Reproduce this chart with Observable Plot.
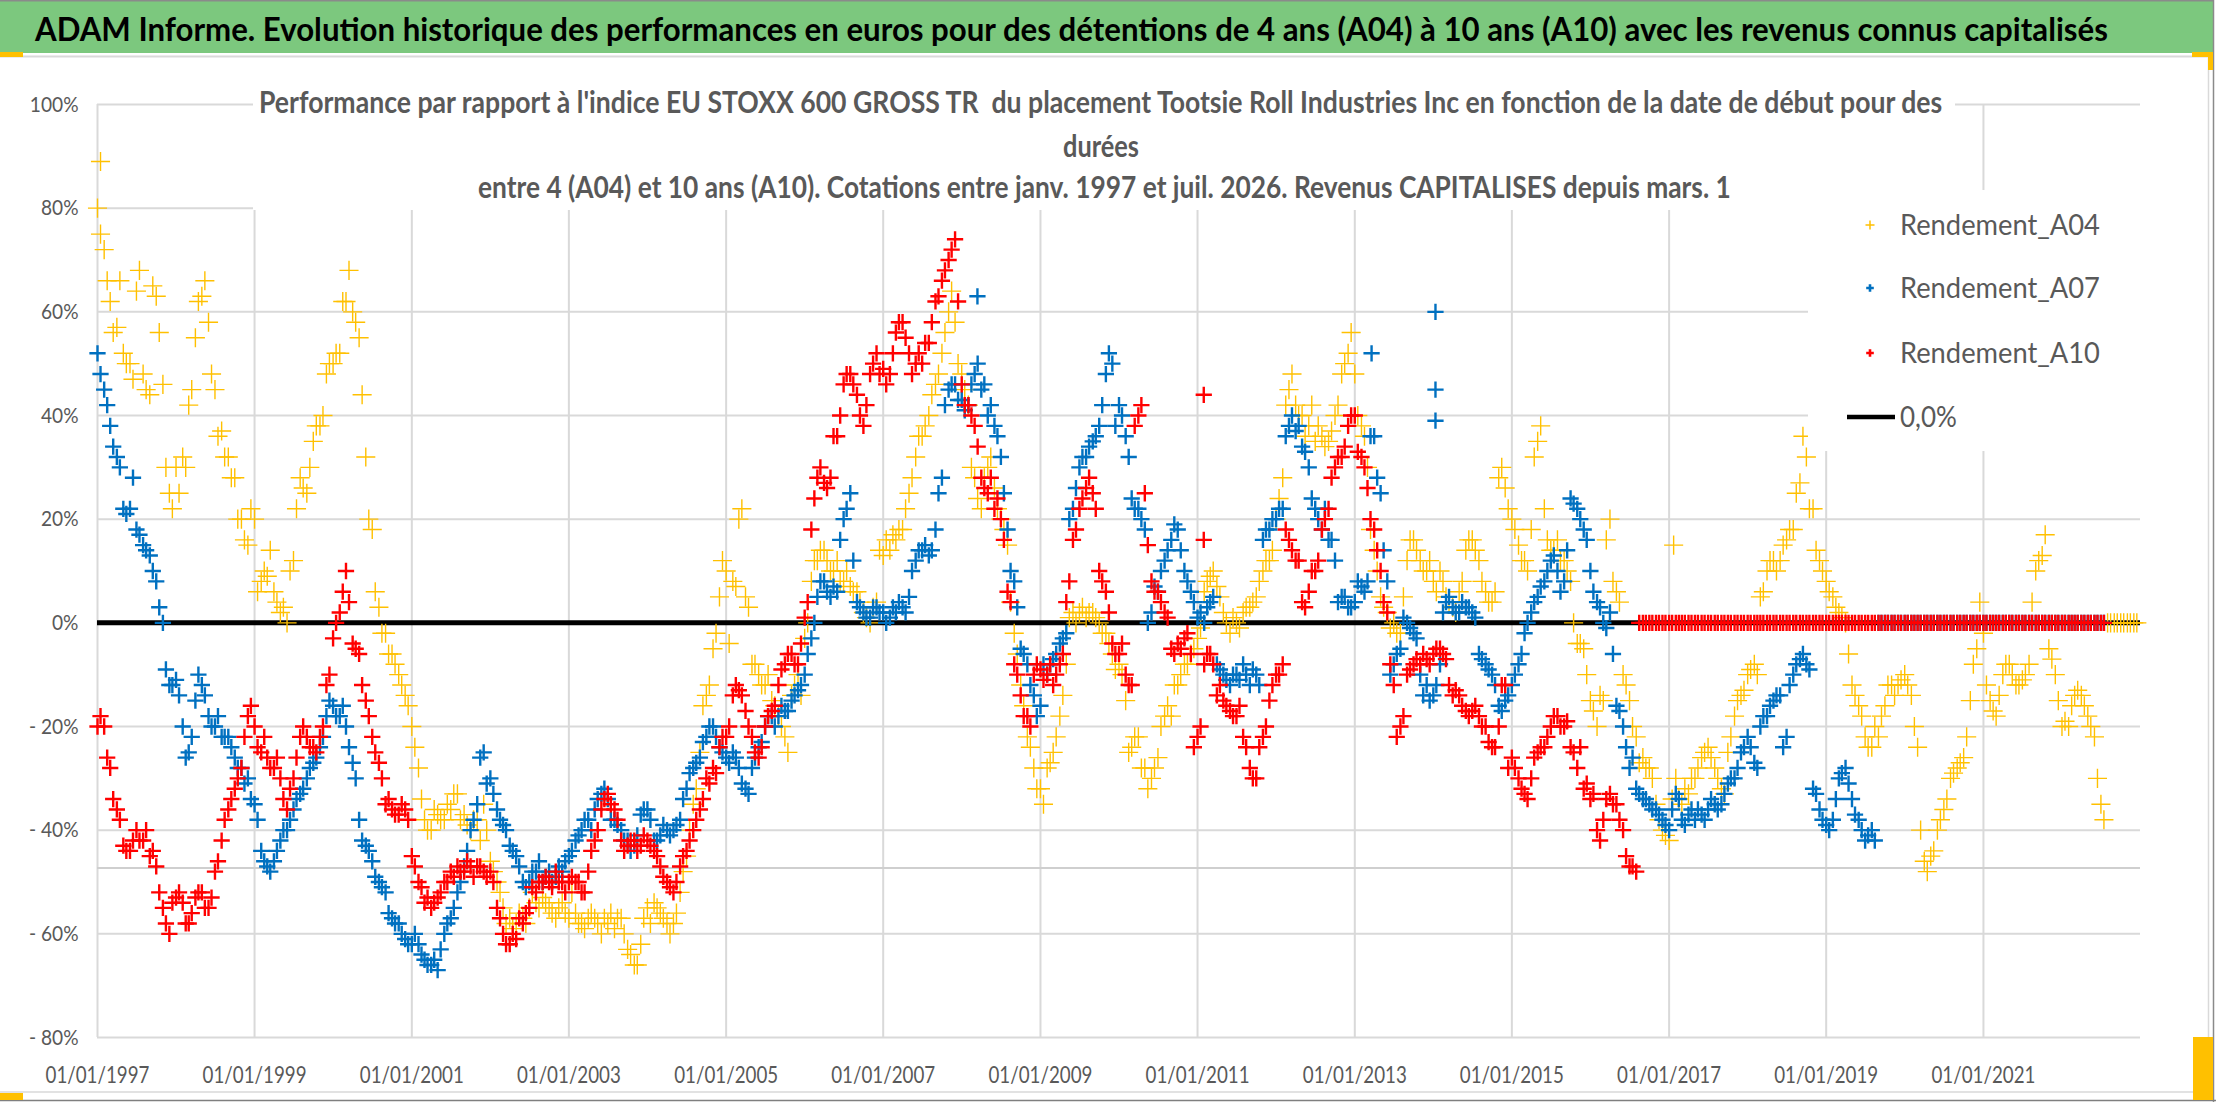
<!DOCTYPE html>
<html>
<head>
<meta charset="utf-8">
<script src="https://cdn.jsdelivr.net/npm/d3@7"></script>
<script src="https://cdn.jsdelivr.net/npm/@observablehq/plot@0.6"></script>
<style>
html, body { margin: 0; padding: 0; background: #fff; }
#root { position: relative; width: 2216px; height: 1102px; overflow: hidden; background: #fff; }
#root > svg { position: absolute; left: 0; top: 0; }
</style>
</head>
<body>
<div id="root"></div>
<script>
// ---------- Texts ----------
const bannerText = "ADAM Informe. Evolution historique des performances en euros pour des détentions de 4 ans (A04) à 10 ans (A10) avec les revenus connus capitalisés";
const titleLines = [
  "Performance par rapport à l'indice EU STOXX 600 GROSS TR  du placement Tootsie Roll Industries Inc en fonction de la date de début pour des",
  "durées",
  "entre 4 (A04) et 10 ans (A10). Cotations entre janv. 1997 et juil. 2026. Revenus CAPITALISES depuis mars. 1"
];
const seriesNames = ["Rendement_A04", "Rendement_A07", "Rendement_A10"];
const zeroLineName = "0,0%";

// ---------- Axis ticks ----------
const yTicks = [-80, -60, -40, -20, 0, 20, 40, 60, 80, 100];
const xTickLabels = ["01/01/1997","01/01/1999","01/01/2001","01/01/2003","01/01/2005","01/01/2007","01/01/2009","01/01/2011","01/01/2013","01/01/2015","01/01/2017","01/01/2019","01/01/2021"];
const xDomain = ["1997-01-01", "2023-01-01"];
const extraLineValue = -47.3;   // light grey horizontal line seen in the chart

// ---------- Values (%) read at the 1st of each month, from January 1997 ----------
const firstMonth = "1997-01-01";
const a04 = [
  80, 72, 62, 57, 52, 50, 64, 48, 44, 63, 46, 25,
  30, 32, 42, 55, 63, 58, 45, 37, 32, 28, 20, 15,
  20, 8, 9, 6, 2, 0, 12, 28, 25, 35, 38, 48,
  50, 52, 62, 60, 55, 32, 18, 3, -2, -6, -10, -14,
  -20, -28, -38, -40, -37, -38, -36, -33, -37, -40, -38, -35,
  -46, -50, -55, -57, -58, -57, -55, -54, -53, -55, -57, -54,
  -57, -56, -58, -57, -57, -60, -58, -59, -57, -63, -66, -62,
  -55, -54, -56, -58, -58, -52, -45, -35, -25, -14, -5, 5,
  10, 8, 20, 5, -8, -10, -12, -15, -18, -22, -14, -10,
  -3, 8, 12, 14, 10, 12, 8, 7, 6, 2, 0, 4,
  13, 14, 16, 18, 25, 32, 36, 40, 46, 52, 60, 58,
  48, 42, 28, 22, 30, 26, 20, 15, -2, -12, -22, -28,
  -32, -28, -25, -18, -8, 2, 2, 1, 2, 0, -2, -6,
  -8, -15, -24, -22, -28, -30, -26, -18, -18, -12, -8, -6,
  -3, 6, 9, 7, 2, -2, 0, 2, 3, 5, 10, 12,
  20, 28, 45, 42, 40, 38, 35, 36, 35, 40, 48, 52,
  48, 38, 30, 14, 5, 2, 0, -2, 12, 16, 12, 10,
  8, 10, 5, 3, 6, 14, 16, 12, 6, 4, 28, 26,
  20, 15, 12, 18, 35, 22, 14, 16, 12, 8, -4, -5,
  -15, -20, -15, 20, 6, -10, -15, -22, -26, -28, -35, -40,
  -42, -30, -35, -33, -30, -26, -24, -28, -32, -25, -18, -14,
  -10, -8, 5, 10, 12, 12, 16, 18, 27, 32, 22, 12,
  8, 5, 2, 0, -12, -16, -22, -24, -22, -16, -12, -12,
  -10, -14, -24, -46, -45, -40, -36, -30, -28, -26, -15, -5,
  -2, -15, -18, -10, -8, -12, -11, -8, 10, 13, -5, -10,
  -20, -20, -14, -14, -18, -22, -35, 0, 0, 0, 0, 0
];
const a07 = [
  52, 45, 38, 32, 22, 22, 18, 15, 13, 8, 0, -12,
  -11, -20, -25, -15, -12, -18, -20, -22, -22, -26, -28, -30,
  -35, -44, -47, -46, -42, -40, -36, -33, -30, -27, -24, -18,
  -16, -18, -20, -27, -38, -43, -46, -50, -52, -57, -58, -61,
  -62, -62, -65, -66, -67, -60, -57, -52, -47, -40, -35, -25,
  -30, -36, -39, -43, -45, -50, -50, -48, -50, -48, -49, -48,
  -45, -42, -40, -38, -36, -33, -34, -38, -40, -42, -43, -37,
  -36, -42, -41, -40, -40, -38, -32, -28, -26, -22, -20, -24,
  -26, -25, -28, -32, -28, -24, -20, -18, -18, -17, -15, -13,
  -10, -3, 5, 8, 5, 6, 20, 25, 4, 2, 1, 3,
  2, 1, 2, 3, 5, 12, 14, 13, 18, 28, 45, 46,
  43, 42, 48, 45, 40, 38, 32, 18, 8, -5, -8, -14,
  -16, -10, -7, -4, -2, 22, 30, 32, 35, 38, 48, 50,
  42, 36, 24, 22, 18, 2, 6, 12, 16, 18, 10, 6,
  1, 0, 4, -8, -10, -12, -10, -8, -12, -10, 16, 18,
  20, 22, 38, 37, 34, 30, 22, 18, 16, 12, 5, 3,
  4, 7, 8, 36, 25, 8, -8, -5, 0, -2, -10, -12,
  -14, -8, 4, 3, 2, 3, 2, -6, -8, -10, -16, -15,
  -12, -8, -2, 2, 5, 8, 12, 10, 8, 24, 22, 18,
  10, 4, 0, 2, -16, -20, -28, -32, -34, -35, -36, -38,
  -40, -33, -38, -37, -38, -37, -36, -35, -35, -31, -30, -25,
  -22, -27, -20, -18, -15, -14, -22, -10, -7, -8, -32, -36,
  -39, -38, -30, -28, -34, -38, -42, -40,
  0, 0, 0, 0, 0, 0, 0, 0, 0, 0, 0, 0, 0, 0, 0, 0, 0, 0, 0, 0,
  0, 0, 0, 0, 0, 0, 0, 0, 0, 0, 0, 0, 0, 0, 0
];
const a10 = [
  -20, -20, -28, -36, -43, -44, -40, -42, -45, -47, -55, -60,
  -53, -54, -58, -53, -52, -55, -48, -42, -36, -32, -28, -18,
  -20, -25, -26, -28, -30, -36, -30, -22, -22, -24, -22, -12,
  -3, 2, 10, -4, -6, -15, -22, -27, -35, -36, -37, -36,
  -45, -50, -54, -55, -53, -50, -48, -47, -48, -47, -47, -48,
  -48, -55, -60, -62, -61, -58, -55, -52, -50, -50, -48, -50,
  -50, -50, -52, -48, -42, -36, -33, -36, -42, -43, -42, -43,
  -42, -44, -47, -50, -52, -47, -44, -40, -36, -30, -28, -24,
  -22, -14, -13, -17, -22, -26, -20, -17, -12, -8, -6, -8,
  1, 18, 28, 27, 28, 36, 46, 48, 44, 38, 48, 52,
  49, 48, 56, 58, 52, 50, 50, 54, 62, 66, 70, 74,
  46, 42, 38, 28, 25, 22, 20, 6, -8, -14, -18, -10,
  -9, -10, -12, -8, 4, 16, 22, 26, 25, 10, 6, -4,
  -6, -10, -12, 40, 25, 8, 6, 2, -5, -4, -3, -6,
  -22, -8, -6, -14, -15, -17, -18, -22, -28, -30, -22, -15,
  -10, -8, 16, 12, 4, 6, 10, 18, 22, 30, 32, 38,
  40, 32, 26, 18, 10, 2, -12, -20, -10, -8, -8, -7,
  -6, -5, -7, -14, -14, -17, -17, -18, -20, -24, -20, -12,
  -26, -30, -33, -30, -25, -24, -20, -18, -20, -24, -28, -32,
  -34, -40, -38, -33, -35, -40, -47, -48,
  0, 0, 0, 0, 0, 0, 0, 0, 0, 0, 0, 0, 0, 0, 0, 0, 0, 0, 0, 0,
  0, 0, 0, 0, 0, 0, 0, 0, 0, 0, 0, 0, 0, 0, 0, 0, 0, 0, 0, 0,
  0, 0, 0, 0, 0, 0, 0, 0, 0, 0, 0, 0, 0, 0, 0, 0, 0, 0, 0, 0,
  0, 0, 0, 0, 0, 0, 0, 0, 0, 0, 0
];
// ---------- Values (%) read at the 15th of each month, from January 1997 ----------
const a04Mid = [
  75, 66, 56, 66, 50, 47, 68, 45, 65, 56, 30, 22,
  25, 30, 45, 62, 66, 48, 36, 32, 28, 20, 16, 22,
  6, 10, 14, 4, 3, 10, 22, 26, 30, 38, 40, 50,
  52, 62, 68, 58, 44, 20, 6, -2, -6, -8, -12, -16,
  -24, -34, -40, -36, -38, -35, -33, -38, -39, -38, -42, -40,
  -48, -52, -58, -59, -56, -58, -52, -55, -54, -56, -55, -56,
  -52, -58, -59, -56, -58, -57, -56, -57, -60, -64, -66, -57,
  -58, -55, -57, -60, -56, -48, -40, -32, -16, -12, -2, 12,
  -4, 7, 22, 3, -8, -12, -10, -16, -20, -25, -12, -14,
  0, 12, 14, 12, 10, 8, 10, 6, 4, 1, 3, 14,
  16, 17, 18, 22, 28, 36, 38, 44, 48, 56, 64, 50,
  45, 30, 24, 28, 32, 22, 18, 4, -6, -16, -24, -32,
  -35, -27, -22, -14, 1, 0, 3, 2, 1, -2, -4, -9,
  -10, -25, -22, -28, -32, -28, -20, -16, -12, -10, -8, -5,
  -1, 8, 10, 5, 0, 1, -1, 3, 4, 8, 12, 14,
  24, 42, 48, 40, 36, 42, 38, 34, 37, 42, 50, 56,
  40, 36, 18, 10, 3, -1, -2, 5, 16, 14, 10, 12,
  6, 8, 4, 2, 8, 16, 14, 8, 4, 6, 30, 22,
  18, 12, 10, 32, 38, 16, 14, 12, 10, 0, -4, -10,
  -17, -14, 16, 8, 4, -12, -20, -27, -28, -30, -38, -41,
  -34, -34, -32, -30, -28, -25, -26, -30, -33, -22, -15, -13,
  -9, -10, 6, 12, 10, 15, 18, 25, 36, 22, 14, 10,
  6, 3, 1, -6, -14, -18, -24, -20, -18, -12, -14, -11,
  -12, -20, -40, -48, -44, -38, -34, -29, -27, -22, -8, 4,
  -12, -17, -14, -8, -10, -12, -10, 4, 12, 17, -7, -15,
  -19, -16, -13, -16, -20, -30, -38, 0, 0, 0, 0, 0
];
const a07Mid = [
  48, 42, 34, 30, 21, 28, 17, 14, 10, 3, -9, -12,
  -14, -26, -22, -10, -14, -20, -18, -22, -24, -28, -31, -34,
  -38, -46, -48, -44, -40, -38, -34, -32, -28, -26, -22, -15,
  -18, -16, -24, -30, -42, -44, -49, -51, -56, -58, -60, -62,
  -60, -64, -66, -65, -63, -58, -55, -50, -44, -38, -26, -31,
  -33, -38, -40, -44, -47, -51, -48, -46, -49, -50, -47, -46,
  -44, -41, -38, -40, -34, -32, -38, -39, -42, -44, -41, -36,
  -38, -42, -39, -41, -39, -34, -29, -27, -23, -20, -22, -25,
  -27, -26, -31, -33, -26, -23, -18, -20, -16, -17, -14, -12,
  -6, 0, 8, 6, 7, 16, 22, 12, 3, 1, 3, 2,
  0, 3, 4, 2, 10, 14, 15, 14, 25, 42, 46, 43,
  41, 46, 50, 46, 42, 36, 25, 10, 3, -6, -12, -18,
  -8, -8, -6, -3, 20, 26, 32, 34, 36, 42, 52, 38,
  40, 32, 22, 20, 0, 7, 10, 14, 19, 14, 8, 4,
  2, 3, 5, -9, -11, -10, -11, -10, -9, -12, 18, 20,
  22, 36, 40, 38, 33, 24, 20, 22, 16, 4, 5, 3,
  8, 6, 36, 28, 14, -10, -6, 1, -1, -3, -14, -15,
  -12, 2, 5, 2, 4, 3, 1, -7, -9, -12, -17, -14,
  -10, -6, 0, 4, 7, 10, 13, 6, 14, 23, 20, 16,
  6, 3, -1, -6, -17, -24, -26, -33, -34, -36, -37, -39,
  -36, -34, -39, -36, -36, -38, -34, -36, -33, -30, -28, -24,
  -24, -28, -18, -16, -14, -24, -12, -8, -6, -9, -33, -38,
  -40, -34, -29, -31, -37, -40, -41, -42,
  0, 0, 0, 0, 0, 0, 0, 0, 0, 0, 0, 0, 0, 0, 0, 0, 0, 0, 0, 0,
  0, 0, 0, 0, 0, 0, 0, 0, 0, 0, 0, 0, 0, 0, 0
];
const a10Mid = [
  -18, -26, -34, -38, -44, -42, -42, -40, -44, -52, -58, -54,
  -52, -58, -56, -52, -55, -53, -46, -38, -34, -30, -22, -16,
  -24, -22, -28, -26, -34, -32, -26, -20, -24, -25, -20, -10,
  0, 6, 4, -5, -12, -18, -25, -30, -34, -37, -35, -38,
  -47, -51, -53, -54, -52, -50, -49, -48, -46, -49, -47, -49,
  -50, -57, -62, -60, -57, -56, -51, -50, -49, -51, -50, -52,
  -49, -50, -52, -44, -40, -34, -35, -38, -44, -42, -44, -41,
  -43, -45, -49, -51, -50, -45, -42, -38, -34, -31, -29, -22,
  -20, -12, -14, -20, -25, -24, -18, -16, -9, -6, -8, -4,
  4, 24, 30, 26, 36, 40, 48, 46, 40, 42, 50, 48,
  46, 52, 58, 55, 48, 52, 54, 58, 63, 68, 72, 62,
  42, 40, 34, 26, 28, 24, 16, 4, -10, -18, -20, -8,
  -11, -8, -10, -6, 8, 18, 24, 28, 22, 8, 2, -6,
  -4, -12, 38, 42, 15, 6, 4, 1, -6, -5, -2, -24,
  -20, -6, -8, -12, -16, -18, -16, -24, -30, -24, -20, -12,
  -10, 18, 14, 12, 3, 10, 12, 20, 28, 32, 34, 40,
  33, 30, 20, 14, 4, -8, -22, -18, -9, -7, -6, -8,
  -5, -6, -12, -13, -16, -18, -16, -20, -23, -24, -12, -28,
  -28, -32, -34, -26, -24, -22, -18, -20, -19, -25, -24, -31,
  -33, -42, -34, -35, -38, -45, -47,
  0, 0, 0, 0, 0, 0, 0, 0, 0, 0, 0, 0, 0, 0, 0, 0, 0, 0, 0, 0,
  0, 0, 0, 0, 0, 0, 0, 0, 0, 0, 0, 0, 0, 0, 0, 0, 0, 0, 0, 0,
  0, 0, 0, 0, 0, 0, 0, 0, 0, 0, 0, 0, 0, 0, 0, 0, 0, 0, 0, 0,
  0, 0, 0, 0, 0, 0, 0, 0, 0, 0, 0, 0
];
// isolated points seen away from the main clouds
const extraA04 = [["1997-01-15", 89], ["2017-01-22", 15]];
const extraA07 = [["2008-03-14", 63], ["2013-03-20", 52], ["2014-01-11", 60], ["2014-01-11", 45], ["2014-01-11", 39]];
const extraA10 = [["2011-01-30", 44], ["2011-01-30", 16]];

// ---------- Styles ----------
const colors = ["#FFC000", "#0070C0", "#FF0000"];
const textGrey = "#595959";
const gridGrey = "#d9d9d9";

// ---------- Build rows ----------
const start = new Date(firstMonth + "T00:00:00Z");
function series(arr, day) {
  return arr.map((v, i) => ({date: new Date(Date.UTC(start.getUTCFullYear(), start.getUTCMonth() + i, day)), v}));
}
function extras(arr) { return arr.map(([d, v]) => ({date: new Date(d + "T00:00:00Z"), v})); }
const dA04 = series(a04, 1).concat(series(a04Mid, 15), extras(extraA04));
const dA07 = series(a07, 1).concat(series(a07Mid, 15), extras(extraA07));
const dA10 = series(a10, 1).concat(series(a10Mid, 15), extras(extraA10));
const parseLabel = d3.utcParse("%d/%m/%Y");
const xTicks = xTickLabels.map(parseLabel);

const chart = Plot.plot({
  width: 2216,
  height: 1102,
  marginLeft: 97,
  marginRight: 76,
  marginTop: 104,
  marginBottom: 65,
  style: {fontFamily: "Lato, 'Open Sans', sans-serif", fontSize: "22px", color: textGrey, background: "transparent", overflow: "visible"},
  x: {type: "utc", domain: xDomain.map(s => new Date(s + "T00:00:00Z"))},
  y: {domain: [-80, 100]},
  marks: [
    Plot.gridY(yTicks, {stroke: gridGrey, strokeOpacity: 1, strokeWidth: 2}),
    Plot.gridX(xTicks, {stroke: gridGrey, strokeOpacity: 1, strokeWidth: 2}),
    Plot.ruleY([extraLineValue], {stroke: "#cfcfcf", strokeWidth: 2}),
    Plot.ruleY([0], {stroke: "#000", strokeWidth: 5}),
    Plot.dot(dA04, {x: "date", y: "v", symbol: "plus", r: 6.2, stroke: colors[0], strokeWidth: 1.4}),
    Plot.dot(dA07, {x: "date", y: "v", symbol: "plus", r: 5.3, stroke: colors[1], strokeWidth: 2.4}),
    Plot.dot(dA10, {x: "date", y: "v", symbol: "plus", r: 5.3, stroke: colors[2], strokeWidth: 2.4}),
    Plot.axisX(xTicks, {tickSize: 0, tickPadding: 29, fontSize: 23, label: null, tickFormat: d3.utcFormat("%d/%m/%Y")}),
    Plot.axisY(yTicks, {tickSize: 0, tickPadding: 19, fontSize: 22, label: null, tickFormat: v => v < 0 ? "- " + Math.abs(v) + "%" : v + "%"})
  ]
});
const root = document.getElementById("root");
root.appendChild(chart);

// condense axis labels (reference font is narrow)
chart.querySelectorAll('g[aria-label="x-axis tick label"] text').forEach(t => {
  t.setAttribute("textLength", 104); t.setAttribute("lengthAdjust", "spacingAndGlyphs");
});
chart.querySelectorAll('g[aria-label="y-axis tick label"] text').forEach(t => {
  const L = t.getComputedTextLength();
  t.setAttribute("textLength", (L * 0.87).toFixed(1)); t.setAttribute("lengthAdjust", "spacingAndGlyphs");
});

// ---------- Overlay: banner, title, legend, frame ----------
const NS = "http://www.w3.org/2000/svg";
const ov = document.createElementNS(NS, "svg");
ov.setAttribute("width", 2216); ov.setAttribute("height", 1102);
ov.style.fontFamily = "Lato, 'Open Sans', sans-serif";
root.appendChild(ov);
function el(tag, attrs, text) {
  const e = document.createElementNS(NS, tag);
  for (const k in attrs) e.setAttribute(k, attrs[k]);
  if (text != null) e.textContent = text;
  ov.appendChild(e);
  return e;
}
// text placed at (x, baseline y) and squeezed horizontally to a target width
function fitText(str, x, y, w, attrs) {
  const t = el("text", Object.assign({x: 0, y: 0}, attrs), str);
  t.setAttributeNS("http://www.w3.org/XML/1998/namespace", "xml:space", "preserve");
  t.style.whiteSpace = "pre";
  const L = t.getComputedTextLength();
  t.setAttribute("transform", `translate(${x},${y}) scale(${(w / L).toFixed(4)},1)`);
  return t;
}
// frame
el("rect", {x: 0, y: 0, width: 2213, height: 53, fill: "#7cc87e"});
el("line", {x1: 0, x2: 2213, y1: 0.75, y2: 0.75, stroke: "#8a8a8a", "stroke-width": 1.5});
el("line", {x1: 0, x2: 2208, y1: 56.5, y2: 56.5, stroke: gridGrey, "stroke-width": 2});
el("line", {x1: 2208.5, x2: 2208.5, y1: 56, y2: 1092, stroke: gridGrey, "stroke-width": 1.5});
el("line", {x1: 2213.5, x2: 2213.5, y1: 0, y2: 1102, stroke: "#8a8a8a", "stroke-width": 1.5});
el("line", {x1: 0, x2: 2208, y1: 1092, y2: 1092, stroke: gridGrey, "stroke-width": 1.5});
el("line", {x1: 0, x2: 2216, y1: 1100.5, y2: 1100.5, stroke: "#7f7f7f", "stroke-width": 1.5});
// selection handles
el("rect", {x: 0, y: 52, width: 23, height: 5, fill: "#FFC000"});
el("rect", {x: 2192, y: 52, width: 21, height: 5, fill: "#FFC000"});
el("rect", {x: 2208, y: 52, width: 5, height: 18, fill: "#FFC000"});
el("rect", {x: 2193, y: 1037, width: 20, height: 63, fill: "#FFC000"});
el("rect", {x: 0, y: 1093, width: 23, height: 7, fill: "#FFC000"});
// banner text
fitText(bannerText, 35, 41, 2073, {"font-size": 33, "font-weight": 700, fill: "#000"});
// title box + lines
el("rect", {x: 253, y: 62, width: 1702, height: 148, fill: "#fff"});
const tl = [[259, 113, 1684], [1063, 157, 76], [478, 198, 1253]];
titleLines.forEach((s, i) => fitText(s, tl[i][0], tl[i][1], tl[i][2], {"font-size": 30, "font-weight": 700, fill: textGrey}));
// legend
el("rect", {x: 1808, y: 190, width: 332, height: 261, fill: "#fff"});
const legY = [225, 288, 353, 417];
const legMk = [[4.5, 1.5], [3.8, 2.6], [3.8, 2.6]];
seriesNames.forEach((s, i) => {
  const cx = 1870, cy = legY[i], a = legMk[i][0];
  el("path", {d: `M${cx - a},${cy}H${cx + a}M${cx},${cy - a}V${cy + a}`, stroke: colors[i], "stroke-width": legMk[i][1], fill: "none"});
  fitText(s, 1900, cy + 10, 200, {"font-size": 28, fill: textGrey});
});
el("line", {x1: 1847, x2: 1895, y1: legY[3], y2: legY[3], stroke: "#000", "stroke-width": 4.5});
fitText(zeroLineName, 1900, legY[3] + 10, 57, {"font-size": 28, fill: textGrey});
</script>
</body>
</html>
